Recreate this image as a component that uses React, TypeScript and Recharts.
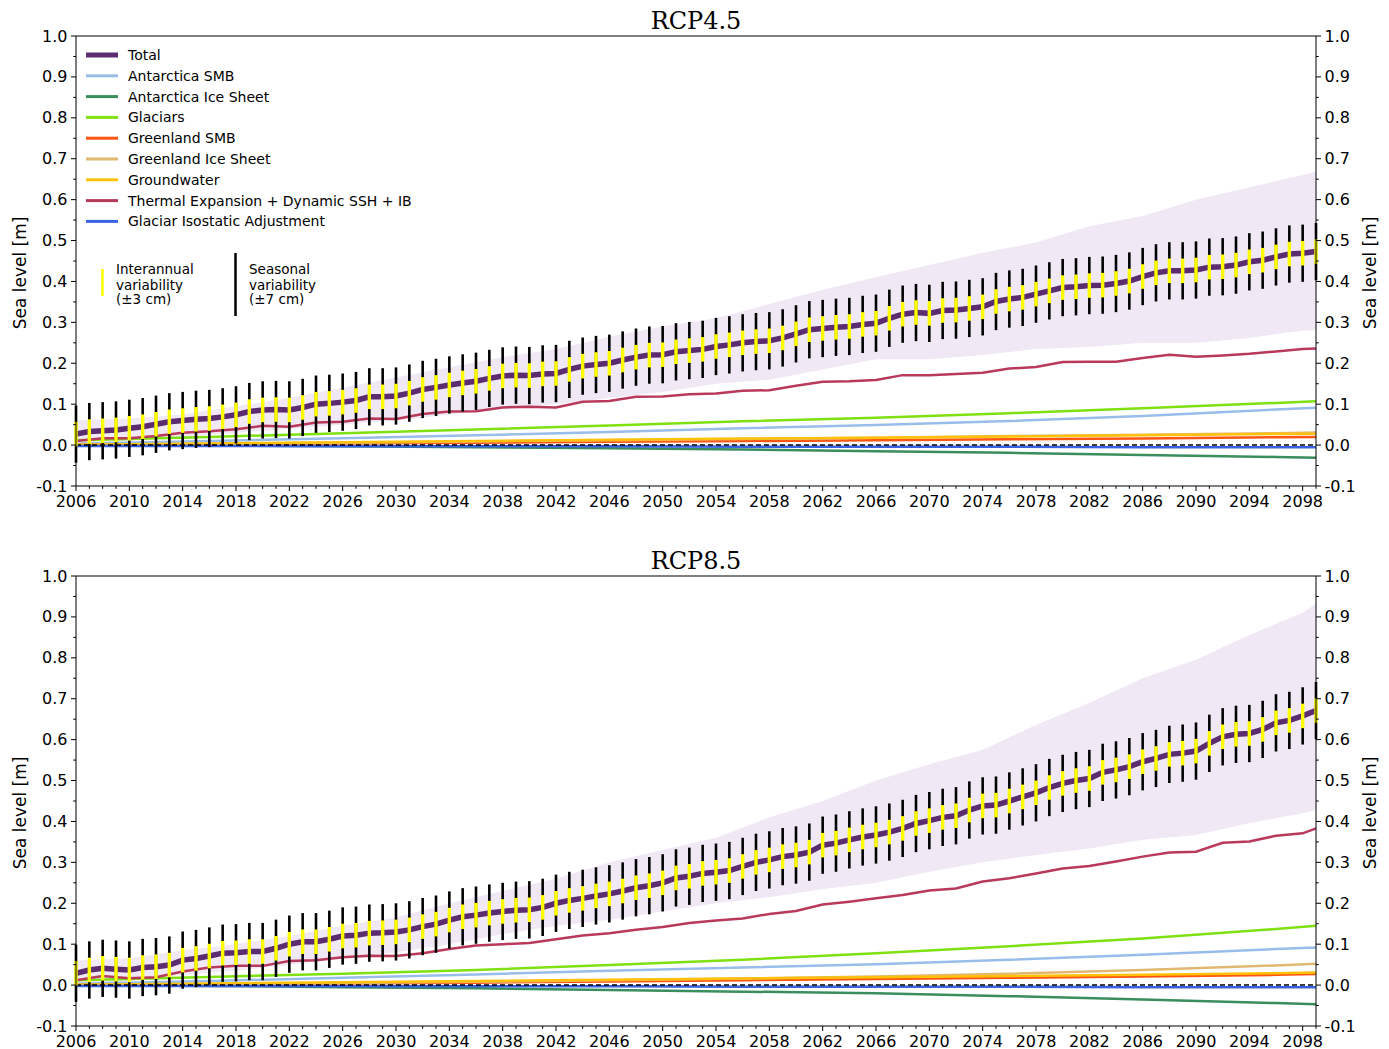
import { ComposedChart, Line, Area, XAxis, YAxis, ErrorBar, ReferenceLine } from "recharts"

// year categories, one per annual mean
const YEARS = Array.from({ length: 94 }, (_, i) => 2006 + i)

const TOTAL_45 = [
  0.027, 0.033, 0.035, 0.037, 0.041, 0.045, 0.051, 0.057, 0.06, 0.063,
  0.065, 0.069, 0.074, 0.082, 0.086, 0.087, 0.086, 0.092, 0.1, 0.102,
  0.105, 0.109, 0.118, 0.118, 0.12, 0.127, 0.136, 0.141, 0.147, 0.152,
  0.156, 0.163, 0.169, 0.171, 0.17, 0.174, 0.175, 0.185, 0.193, 0.197,
  0.2, 0.208, 0.215, 0.22, 0.221, 0.228, 0.231, 0.234, 0.241, 0.245,
  0.25, 0.253, 0.255, 0.262, 0.272, 0.282, 0.285, 0.288, 0.29, 0.295,
  0.298, 0.31, 0.32, 0.324, 0.322, 0.329, 0.33, 0.334, 0.338, 0.351,
  0.357, 0.361, 0.369, 0.377, 0.385, 0.387, 0.39, 0.391, 0.395, 0.401,
  0.412, 0.421, 0.426, 0.426, 0.428, 0.435, 0.436, 0.44, 0.448, 0.452,
  0.46, 0.467, 0.469, 0.473,
]

const TOTAL_85 = [
  0.029, 0.037, 0.041, 0.039, 0.037, 0.043, 0.045, 0.049, 0.061, 0.065,
  0.071, 0.078, 0.079, 0.082, 0.082, 0.09, 0.1, 0.106, 0.106, 0.112,
  0.12, 0.122, 0.127, 0.128, 0.13, 0.135, 0.143, 0.149, 0.159, 0.167,
  0.171, 0.176, 0.18, 0.183, 0.184, 0.19, 0.2, 0.207, 0.212, 0.218,
  0.223, 0.23, 0.238, 0.243, 0.25, 0.262, 0.266, 0.273, 0.276, 0.28,
  0.29, 0.3, 0.306, 0.314, 0.318, 0.325, 0.342, 0.347, 0.355, 0.362,
  0.367, 0.374, 0.383, 0.395, 0.402, 0.41, 0.414, 0.428, 0.438, 0.44,
  0.45, 0.46, 0.47, 0.483, 0.493, 0.5, 0.505, 0.52, 0.526, 0.534,
  0.546, 0.554, 0.564, 0.567, 0.572, 0.591, 0.607, 0.613, 0.615, 0.625,
  0.641, 0.647, 0.658, 0.671,
]

// half widths of the variability bars (m)
const SEASONAL = 0.07
const INTERANNUAL = 0.03

// spread of the total
const BAND_YEARS = [2006, 2010, 2014, 2018, 2022, 2026, 2030, 2034, 2038, 2042, 2046, 2050, 2054, 2058, 2062, 2066, 2070, 2074, 2078, 2082, 2086, 2090, 2094, 2098, 2099]
const BAND_LO_45 = [0, 0.01, 0.02, 0.03, 0.04, 0.05, 0.06, 0.075, 0.09, 0.1, 0.115, 0.13, 0.15, 0.16, 0.185, 0.21, 0.21, 0.22, 0.235, 0.24, 0.25, 0.25, 0.262, 0.28, 0.281]
const BAND_HI_45 = [0.06, 0.065, 0.075, 0.095, 0.115, 0.14, 0.165, 0.19, 0.215, 0.235, 0.265, 0.29, 0.31, 0.345, 0.38, 0.41, 0.44, 0.47, 0.495, 0.535, 0.56, 0.6, 0.63, 0.66, 0.668]
const BAND_LO_85 = [0, 0.01, 0.025, 0.035, 0.05, 0.065, 0.08, 0.1, 0.125, 0.145, 0.16, 0.18, 0.2, 0.215, 0.235, 0.25, 0.277, 0.3, 0.318, 0.334, 0.355, 0.367, 0.396, 0.42, 0.428]
const BAND_HI_85 = [0.06, 0.065, 0.085, 0.1, 0.12, 0.145, 0.165, 0.2, 0.23, 0.26, 0.3, 0.33, 0.36, 0.41, 0.45, 0.5, 0.54, 0.575, 0.636, 0.69, 0.75, 0.795, 0.856, 0.91, 0.933]

const THERMAL_YEARS = [
  2006, 2008, 2010, 2012, 2014, 2016, 2018, 2020, 2022, 2024, 2026, 2028, 2030, 2032, 2034, 2036,
  2038, 2040, 2042, 2044, 2046, 2048, 2050, 2052, 2054, 2056, 2058, 2060, 2062, 2064, 2066, 2068,
  2070, 2072, 2074, 2076, 2078, 2080, 2082, 2084, 2086, 2088, 2090, 2092, 2094, 2096, 2098, 2099,
]
const THERMAL_45 = [
  0.01, 0.017, 0.017, 0.022, 0.03, 0.034, 0.039, 0.047, 0.045, 0.055, 0.057, 0.065, 0.064, 0.076, 0.082, 0.083,
  0.092, 0.094, 0.092, 0.106, 0.108, 0.118, 0.119, 0.124, 0.126, 0.133, 0.134, 0.145, 0.155, 0.156, 0.159, 0.171,
  0.171, 0.174, 0.177, 0.187, 0.191, 0.203, 0.204, 0.204, 0.213, 0.221, 0.216, 0.219, 0.223, 0.229, 0.235, 0.236,
]
const THERMAL_85 = [
  0.012, 0.022, 0.017, 0.019, 0.033, 0.043, 0.047, 0.047, 0.059, 0.061, 0.068, 0.072, 0.071, 0.078, 0.088, 0.097,
  0.1, 0.103, 0.112, 0.121, 0.127, 0.135, 0.142, 0.152, 0.158, 0.163, 0.174, 0.181, 0.197, 0.204, 0.212, 0.22,
  0.231, 0.236, 0.253, 0.261, 0.273, 0.285, 0.291, 0.302, 0.314, 0.324, 0.326, 0.348, 0.351, 0.365, 0.371, 0.383,
]

// slow components
const COMP_YEARS = [2006, 2016, 2026, 2036, 2046, 2056, 2066, 2076, 2086, 2096, 2099]
const GLACIERS_45 = [0.012, 0.02, 0.029, 0.038, 0.048, 0.058, 0.067, 0.078, 0.09, 0.103, 0.107]
const ANT_SMB_45 = [0.003, 0.01, 0.017, 0.024, 0.032, 0.041, 0.049, 0.059, 0.071, 0.087, 0.091]
const ANT_ICE_45 = [0, -0.001, -0.003, -0.005, -0.008, -0.011, -0.015, -0.019, -0.024, -0.029, -0.031]
const GRL_SMB_45 = [0, 0.002, 0.004, 0.006, 0.008, 0.01, 0.012, 0.014, 0.016, 0.019, 0.02]
const GRL_ICE_45 = [0, 0.003, 0.006, 0.009, 0.012, 0.015, 0.018, 0.022, 0.025, 0.029, 0.031]
const GROUNDWATER_45 = [0.001, 0.004, 0.007, 0.01, 0.013, 0.016, 0.018, 0.021, 0.024, 0.027, 0.028]
const GIA_45 = [-0.002, -0.002, -0.003, -0.003, -0.003, -0.004, -0.004, -0.004, -0.005, -0.005, -0.005]

const GLACIERS_85 = [0.012, 0.02, 0.028, 0.037, 0.049, 0.062, 0.078, 0.095, 0.114, 0.137, 0.145]
const ANT_SMB_85 = [0.003, 0.01, 0.018, 0.026, 0.035, 0.043, 0.051, 0.062, 0.074, 0.088, 0.092]
const ANT_ICE_85 = [0, -0.002, -0.005, -0.008, -0.012, -0.016, -0.02, -0.027, -0.035, -0.044, -0.047]
const GRL_SMB_85 = [0, 0.002, 0.004, 0.006, 0.009, 0.012, 0.015, 0.018, 0.021, 0.025, 0.027]
const GRL_ICE_85 = [0, 0.002, 0.005, 0.008, 0.012, 0.016, 0.021, 0.028, 0.037, 0.048, 0.052]
const GROUNDWATER_85 = [0.001, 0.004, 0.007, 0.01, 0.013, 0.016, 0.019, 0.022, 0.025, 0.029, 0.031]
const GIA_85 = [-0.002, -0.002, -0.003, -0.003, -0.003, -0.004, -0.004, -0.004, -0.005, -0.005, -0.005]

const Y_TICKS = Array.from({ length: 23 }, (_, i) => Math.round((-0.1 + i * 0.05) * 100) / 100)

const COLORS = {
  total: "#5b2c6f",
  antSmb: "#98bde9",
  antIce: "#3a8d5d",
  glaciers: "#7fe012",
  grlSmb: "#ff5512",
  grlIce: "#e1b872",
  groundwater: "#ffc10a",
  thermal: "#b9395a",
  gia: "#3b62e2",
  band: "#f0e8f5",
}

const LEGEND = [
  { name: "Total", color: COLORS.total, w: 5 },
  { name: "Antarctica SMB", color: COLORS.antSmb, w: 3 },
  { name: "Antarctica Ice Sheet", color: COLORS.antIce, w: 3 },
  { name: "Glaciars", color: COLORS.glaciers, w: 3 },
  { name: "Greenland SMB", color: COLORS.grlSmb, w: 3 },
  { name: "Greenland Ice Sheet", color: COLORS.grlIce, w: 3 },
  { name: "Groundwater", color: COLORS.groundwater, w: 3 },
  { name: "Thermal Expansion + Dynamic SSH + IB", color: COLORS.thermal, w: 3 },
  { name: "Glaciar Isostatic Adjustment", color: COLORS.gia, w: 3 },
]

const FONT = "'DejaVu Sans', sans-serif"
const TICK = 5
const MINOR = 2.8
const GAP = 3.5

const pairs = (xs: number[], ys: number[]) => xs.map((year, i) => ({ year, v: ys[i] }))

function LeftTick(props: any) {
  const { x, y, payload } = props
  const v = payload.value
  const major = Math.round(v * 100) % 10 === 0
  const ax = x + GAP + TICK
  return (
    <g>
      <line x1={ax - (major ? TICK : MINOR)} x2={ax} y1={y} y2={y} stroke="#000" />
      {major && (
        <text x={x} y={y + 5.5} textAnchor="end" fontSize={16} fontFamily={FONT} fill="#000">
          {v.toFixed(1)}
        </text>
      )}
    </g>
  )
}

function RightTick(props: any) {
  const { x, y, payload } = props
  const v = payload.value
  const major = Math.round(v * 100) % 10 === 0
  const ax = x - GAP - TICK
  return (
    <g>
      <line x1={ax} x2={ax + (major ? TICK : MINOR)} y1={y} y2={y} stroke="#000" />
      {major && (
        <text x={x} y={y + 5.5} textAnchor="start" fontSize={16} fontFamily={FONT} fill="#000">
          {v.toFixed(1)}
        </text>
      )}
    </g>
  )
}

function BottomTick(props: any) {
  const { x, y, payload } = props
  const yr = payload.value
  const major = (yr - 2006) % 4 === 0
  const ay = y - GAP - TICK
  return (
    <g>
      <line x1={x} x2={x} y1={ay} y2={ay + (major ? TICK : MINOR)} stroke="#000" />
      {major && (
        <text x={x} y={y + 12} textAnchor="middle" fontSize={16} fontFamily={FONT} fill="#000">
          {yr}
        </text>
      )}
    </g>
  )
}

type Comps = { glaciers: number[]; antSmb: number[]; antIce: number[]; grlSmb: number[]; grlIce: number[]; groundwater: number[]; gia: number[] }

function Panel(props: { title: string; top: number; total: number[]; lo: number[]; hi: number[]; thermal: number[]; comps: Comps }) {
  const { title, top, total, lo, hi, thermal, comps } = props
  const rows = YEARS.map((year, i) => ({ year, total: total[i], seasonal: SEASONAL, interannual: INTERANNUAL }))
  const band = BAND_YEARS.map((year, i) => ({ year, range: [lo[i], hi[i]] }))
  const comp = (key: keyof Comps, color: string) => (
    <Line
      key={key}
      yAxisId="left"
      data={pairs(COMP_YEARS, comps[key])}
      dataKey="v"
      stroke={color}
      strokeWidth={2.5}
      dot={false}
      activeDot={false}
      isAnimationActive={false}
    />
  )
  return (
    <div style={{ position: "absolute", left: 0, top, width: 1389, height: 540 }}>
      <ComposedChart width={1389} height={540} data={rows} margin={{ top: 36, right: 0, bottom: 24, left: 0 }}>
        <XAxis
          type="number"
          dataKey="year"
          domain={[2006, 2099]}
          allowDataOverflow
          ticks={YEARS}
          interval={0}
          tick={BottomTick}
          tickLine={false}
          tickSize={TICK}
          tickMargin={GAP}
          height={30}
          axisLine={{ stroke: "#000" }}
        />
        <YAxis
          yAxisId="left"
          domain={[-0.1, 1.0]}
          allowDataOverflow
          ticks={Y_TICKS}
          interval={0}
          tick={LeftTick}
          tickLine={false}
          tickSize={TICK}
          tickMargin={GAP}
          width={76}
          axisLine={{ stroke: "#000" }}
        />
        <YAxis
          yAxisId="right"
          orientation="right"
          domain={[-0.1, 1.0]}
          allowDataOverflow
          ticks={Y_TICKS}
          interval={0}
          tick={RightTick}
          tickLine={false}
          tickSize={TICK}
          tickMargin={GAP}
          width={73}
          axisLine={{ stroke: "#000" }}
        />
        <Area yAxisId="left" data={band} dataKey="range" stroke="none" fill={COLORS.band} fillOpacity={1} isAnimationActive={false} />
        {comp("antSmb", COLORS.antSmb)}
        {comp("antIce", COLORS.antIce)}
        {comp("glaciers", COLORS.glaciers)}
        {comp("grlSmb", COLORS.grlSmb)}
        {comp("grlIce", COLORS.grlIce)}
        {comp("groundwater", COLORS.groundwater)}
        <Line
          yAxisId="left"
          data={pairs(THERMAL_YEARS, thermal)}
          dataKey="v"
          stroke={COLORS.thermal}
          strokeWidth={2.5}
          dot={false}
          activeDot={false}
          isAnimationActive={false}
        />
        {comp("gia", COLORS.gia)}
        <ReferenceLine yAxisId="left" y={0} stroke="#000" strokeWidth={1.5} strokeDasharray="5 3" />
        <ReferenceLine yAxisId="left" y={1} stroke="#000" strokeWidth={1} />
        <Line
          yAxisId="left"
          dataKey="total"
          stroke={COLORS.total}
          strokeWidth={5.5}
          dot={false}
          activeDot={false}
          isAnimationActive={false}
        />
        {/* variability bars, drawn after the total so they sit on top */}
        <Line yAxisId="left" dataKey="total" stroke="none" strokeWidth={0} dot={false} activeDot={false} isAnimationActive={false}>
          <ErrorBar dataKey="seasonal" width={0} stroke="#000" strokeWidth={2.6} direction="y" />
        </Line>
        <Line yAxisId="left" dataKey="total" stroke="none" strokeWidth={0} dot={false} activeDot={false} isAnimationActive={false}>
          <ErrorBar dataKey="interannual" width={0} stroke="#ffff00" strokeWidth={3.4} direction="y" />
        </Line>
      </ComposedChart>
      <div
        style={{
          position: "absolute",
          left: 696,
          top: 6,
          transform: "translateX(-50%)",
          fontFamily: "'DejaVu Serif', serif",
          fontSize: 24,
          lineHeight: "30px",
          whiteSpace: "nowrap",
        }}
      >
        {title}
      </div>
      <div style={{ position: "absolute", left: 20, top: 273, transform: "translate(-50%, -50%) rotate(-90deg)", fontFamily: FONT, fontSize: 17, whiteSpace: "nowrap" }}>
        Sea level [m]
      </div>
      <div style={{ position: "absolute", left: 1370, top: 273, transform: "translate(-50%, -50%) rotate(-90deg)", fontFamily: FONT, fontSize: 17, whiteSpace: "nowrap" }}>
        Sea level [m]
      </div>
    </div>
  )
}

function Legend() {
  return (
    <svg width={460} height={330} style={{ position: "absolute", left: 0, top: 0 }}>
      {LEGEND.map((d, i) => {
        const y = 55 + i * 20.8
        return (
          <g key={d.name}>
            <line x1={86} x2={118} y1={y} y2={y} stroke={d.color} strokeWidth={d.w} />
            <text x={128} y={y + 5} fontSize={14} fontFamily={FONT} fill="#000">
              {d.name}
            </text>
          </g>
        )
      })}
      <line x1={102.5} x2={102.5} y1={269} y2={296} stroke="#ffff00" strokeWidth={2.5} />
      <text fontSize={13.5} fontFamily={FONT} fill="#000">
        <tspan x={116} y={274}>Interannual</tspan>
        <tspan x={116} y={290}>variability</tspan>
        <tspan x={116} y={304}>(±3 cm)</tspan>
      </text>
      <line x1={235.5} x2={235.5} y1={253} y2={316} stroke="#000" strokeWidth={2.5} />
      <text fontSize={13.5} fontFamily={FONT} fill="#000">
        <tspan x={249} y={274}>Seasonal</tspan>
        <tspan x={249} y={290}>variability</tspan>
        <tspan x={249} y={304}>(±7 cm)</tspan>
      </text>
    </svg>
  )
}

export default function App() {
  return (
    <div style={{ position: "absolute", left: 0, top: 0, width: 1389, height: 1049, overflow: "hidden", background: "#fff" }}>
      <Panel
        title="RCP4.5"
        top={0}
        total={TOTAL_45}
        lo={BAND_LO_45}
        hi={BAND_HI_45}
        thermal={THERMAL_45}
        comps={{ glaciers: GLACIERS_45, antSmb: ANT_SMB_45, antIce: ANT_ICE_45, grlSmb: GRL_SMB_45, grlIce: GRL_ICE_45, groundwater: GROUNDWATER_45, gia: GIA_45 }}
      />
      <Panel
        title="RCP8.5"
        top={540}
        total={TOTAL_85}
        lo={BAND_LO_85}
        hi={BAND_HI_85}
        thermal={THERMAL_85}
        comps={{ glaciers: GLACIERS_85, antSmb: ANT_SMB_85, antIce: ANT_ICE_85, grlSmb: GRL_SMB_85, grlIce: GRL_ICE_85, groundwater: GROUNDWATER_85, gia: GIA_85 }}
      />
      <Legend />
    </div>
  )
}
